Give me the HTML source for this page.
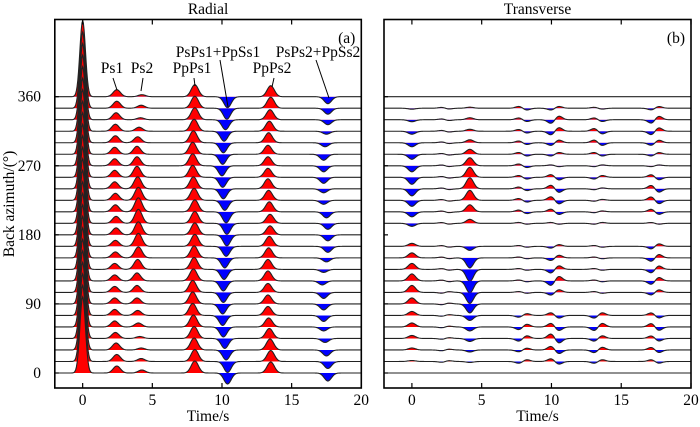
<!DOCTYPE html>
<html><head><meta charset="utf-8"><style>
html,body{margin:0;padding:0;background:#fff;}
svg{display:block;font-family:"Liberation Serif",serif;}
</style></head><body>
<svg id="c" width="700" height="427" viewBox="0 0 700 427" xmlns="http://www.w3.org/2000/svg">
<g id="plots"></g>
</svg>
<script>
// ---- data ----
const baz = [0,15,30,45,60,75,90,105,120,135,150,165,180,195,210,225,240,255,270,285,300,315,330,345,360];
const rP   = [76,76,76,76,76,76,76,76,76,76,76,76,76,76,76,76,76,76,76,76,76,76,76,76,76];
const rPs1A = [7,7,7,6,6,6,6,6,6,6,6,6,7,7,7,7,7,7,7,7,7,7,7,7,7];
const rPs1T = [2.45,2.45,2.4,2.35,2.3,2.3,2.3,2.3,2.3,2.3,2.35,2.35,2.4,2.4,2.35,2.35,2.3,2.3,2.3,2.3,2.35,2.35,2.4,2.45,2.45];
const rPs2A = [3,3,2,2,4,5,6,7,8,10,11,13,13,14,14,13,12,11,9,8,6,4,2,3,2];
const rPs2T = [4.25,4.2,4.2,4.1,4.0,3.95,3.9,3.9,3.9,3.95,4.0,4.0,4.0,4.0,4.0,4.0,3.95,3.9,3.9,3.9,3.95,4.05,4.15,4.2,4.25];
const rPpA = [12,12,12,12,12,12,12,12,12,12,12,12,12,12,12,12,12,12,12,12,12,12,12,12,12];
const rPpT = [8.05,8.05,8.0,8.0,7.95,7.9,7.9,7.9,7.95,8.0,8.0,8.05,8.05,8.05,8.05,8.0,7.95,7.9,7.9,7.9,7.95,8.0,8.05,8.05,8.05];
const rPsPs1A = [-11,-11,-10,-10,-10,-10,-10,-10,-10,-10,-10,-10,-11,-11,-11,-10,-10,-10,-10,-10,-10,-10,-10,-11,-11];
const rPsPs1T = [10.4,10.4,10.3,10.2,10.1,10.05,10.05,10.1,10.1,10.15,10.2,10.3,10.35,10.35,10.3,10.2,10.1,10.05,10.0,10.05,10.1,10.15,10.25,10.35,10.4];
const rPpPs2A = [11,11,11,10,9,9,9,9,10,10,10,10,9,9,10,10,10,9,9,9,10,10,10,11,11];
const rPpPs2T = [13.5,13.5,13.45,13.4,13.35,13.3,13.3,13.3,13.3,13.3,13.35,13.4,13.45,13.45,13.4,13.35,13.3,13.3,13.3,13.3,13.35,13.4,13.45,13.5,13.5];
const rPsPs2A = [-8,-7,-6,-4,-4,-6,-6,-6,-4,-3,-4,-6,-6,-6,-6,-4,-4,-6,-6,-6,-4,-3,-5,-6,-7];
const rPsPs2T = [17.6,17.6,17.5,17.4,17.3,17.3,17.3,17.3,17.2,17.3,17.5,17.6,17.6,17.6,17.5,17.3,17.3,17.3,17.3,17.3,17.4,17.5,17.6,17.6,17.6];
const tValid = [1,1,1,1,1,1,1,1,1,1,1,1,0,1,1,1,1,1,1,1,1,1,1,1,1];
const t0A  = [0,1,2,3,4,4,6,7,7,6,5,3,0,-3,-5,-6,-7,-7,-6,-5,-4,-3,-2,-1,0];
const t4A  = [0,-1,-2,-3,-4,-5,-9,-11,-12,-12,-10,-4,0,4,7,10,11,10,8,5,3,2,2,1,0];
const t2A  = [0,-1,-1,-1,-1,-1,-1,-1,1,1,1,1,0,1,1,1,1,1,1,1,1,1,1,1,0];
const t8A  = [0,-2,-2,-3,-3,-2,0,1,1,1,1,1,0,1,2,2,2,2,2,2,2,2,2,2,0];
const t10A = [0,3,4,5,4,3,0,-3,-5,-4,-3,-2,0,1,3,4,4,3,1,-2,-3,-4,-4,-2,0];
const t13A = [0,-2,-3,-3,-4,-3,0,1,1,1,1,1,0,-1,-1,-1,-1,-2,-1,2,3,3,2,1,0];
const t17A = [0,2,3,3,4,3,0,-3,-4,-4,-4,-3,0,1,3,4,4,3,-1,-2,-3,-4,-4,-2,0];
const xTicks = [0,5,10,15,20];
const yTicks = [0,90,180,270,360];

const NS="http://www.w3.org/2000/svg";
const root=document.getElementById('plots');
function el(tag,attrs,parent){const e=document.createElementNS(NS,tag);for(const k in attrs)e.setAttribute(k,attrs[k]);(parent||root).appendChild(e);return e;}
const Y0=373, YS=(373-96.7)/360, TOP=19.5, BOT=388;
const yOf=b=>Y0-b*YS;
const panels=[{x0:54.8,x1:361.3,title:'Radial',lab:'(a)'},{x0:384,x1:691,title:'Transverse',lab:'(b)'}];
panels.forEach(p=>{p.sx=t=>p.x0+(t+2)*(p.x1-p.x0)/22;});
const SIG=0.26;

let clipId=0;
function drawTrace(p,g,b,pulses,name){
  const base=yOf(b);
  const n=440, pts=[];
  for(let i=0;i<=n;i++){
    const t=-2+22*i/n; let v=0;
    pulses.forEach(q=>{const s=q.s||SIG;v+=q.a*Math.exp(-0.5*((t-q.t)/s)**2);});
    pts.push([p.sx(t),base-v]);
  }
  const line='M'+pts.map(q=>q[0].toFixed(2)+','+q[1].toFixed(2)).join('L');
  const area=line+'L'+p.x1+','+base+'L'+p.x0+','+base+'Z';
  const tg=el('g',{},g);
  
  
  const ida='cu'+(clipId), idb='cd'+(clipId++);
  const d=el('defs',{},tg);
  const ca=el('clipPath',{id:ida},d); el('rect',{x:p.x0,y:0,width:p.x1-p.x0,height:base},ca);
  const cb=el('clipPath',{id:idb},d); el('rect',{x:p.x0,y:base,width:p.x1-p.x0,height:427-base},cb);
  const fr=el('path',{d:area,fill:'#ff0000','clip-path':'url(#'+ida+')'},tg);
  
  
  const fb=el('path',{d:area,fill:'#0000ff','clip-path':'url(#'+idb+')'},tg);
  
  
  const ln=el('path',{d:line,fill:'none',stroke:'#222','stroke-width':1.1},tg);
  
  
}

const defs=el('defs',{});
panels.forEach((p,k)=>{const c=el('clipPath',{id:'pc'+k},defs);el('rect',{x:p.x0,y:TOP,width:p.x1-p.x0,height:BOT-TOP},c);});

const gR=el('g',{'clip-path':'url(#pc0)'});


for(let i=baz.length-1;i>=0;i--){
  drawTrace(panels[0],gR,baz[i],[
    {t:0,a:rP[i],s:0.2},{t:rPs1T[i],a:rPs1A[i]},{t:rPs2T[i],a:rPs2A[i]},{t:rPpT[i],a:rPpA[i]},
    {t:rPsPs1T[i],a:rPsPs1A[i]},{t:rPpPs2T[i],a:rPpPs2A[i]},{t:rPsPs2T[i],a:rPsPs2A[i]}
  ],'radial-trace-'+baz[i]);
}
const gT=el('g',{'clip-path':'url(#pc1)'});


for(let i=baz.length-1;i>=0;i--){
  if(!tValid[i]) continue;
  drawTrace(panels[1],gT,baz[i],[
    {t:0,a:t0A[i]},{t:2.2,a:t2A[i]},{t:2.6,a:-t2A[i]},{t:4.15,a:t4A[i]},
    {t:7.7,a:t8A[i]},{t:8.2,a:-t8A[i]},{t:10.0,a:t10A[i]},{t:10.5,a:-t10A[i]},
    {t:13.1,a:t13A[i]},{t:13.6,a:-t13A[i]},{t:17.2,a:t17A[i]},{t:17.65,a:-t17A[i]}
  ],'transverse-trace-'+baz[i]);
}

panels.forEach((p,k)=>{
  const fr=el('rect',{x:p.x0,y:TOP,width:p.x1-p.x0,height:BOT-TOP,fill:'none',stroke:'#000','stroke-width':1.6});
  
  
  xTicks.forEach(t=>{
    const x=p.sx(t);
    el('line',{x1:x,x2:x,y1:BOT,y2:BOT-5,stroke:'#000','stroke-width':1.2});
    el('line',{x1:x,x2:x,y1:TOP,y2:TOP+5,stroke:'#000','stroke-width':1.2});
    const tx=el('text',{x:x,y:BOT+17,'text-anchor':'middle','font-size':15.5},root);
    tx.textContent=t;
    
    
  });
  yTicks.forEach(b=>{
    el('line',{x1:p.x0,x2:p.x0+4,y1:yOf(b),y2:yOf(b),stroke:'#000','stroke-width':1.2});
  });
  const xt=el('text',{x:(p.x0+p.x1)/2,y:BOT+33,'text-anchor':'middle','font-size':15.5});
  xt.textContent='Time/s';
  
  
  const tt=el('text',{x:(p.x0+p.x1)/2,y:14,'text-anchor':'middle','font-size':15.5});
  tt.textContent=p.title;
  
  
  const lb=el('text',{x:p.x1-6,y:43,'text-anchor':'end','font-size':15.5});
  lb.textContent=p.lab;
  
  
});
yTicks.forEach(b=>{
  const t=el('text',{x:41,y:yOf(b)+5,'text-anchor':'end','font-size':15.5});
  t.textContent=b;
  
  
});
const yl=el('text',{x:0,y:0,'text-anchor':'middle','font-size':15.5,transform:'translate(14,204) rotate(-90)'});
yl.textContent='Back azimuth/(°)';



const ann=[
  ['Ps1',112,73,113,78,117,90],['Ps2',142,73,143,78,141,91],['PpPs1',192,73,194,78,195,86],
  ['PsPs1+PpSs1',218,57,220,60,228,107],['PpPs2',272,73,274,78,272,87],['PsPs2+PpSs2',318,57,316,60,329,98]
];
ann.forEach(a=>{
  const t=el('text',{x:a[1],y:a[2],'text-anchor':'middle','font-size':15.5});
  t.textContent=a[0];
  
  
  const l=el('line',{x1:a[3],y1:a[4],x2:a[5],y2:a[6],stroke:'#000','stroke-width':1});
  
  
});
</script>
</body></html>
